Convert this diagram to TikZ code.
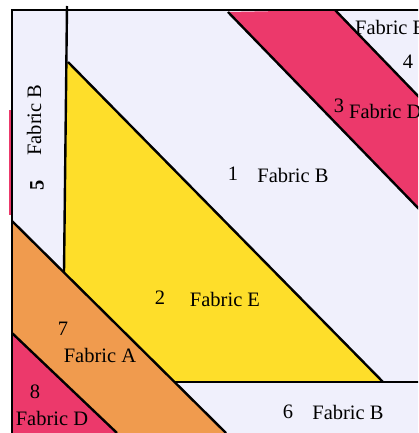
\documentclass[tikz,border=0pt]{standalone}
\usepackage{fontspec}
\setmainfont{Liberation Serif}
\definecolor{lav}{RGB}{240,240,252}
\definecolor{pinkD}{RGB}{236,57,107}
\definecolor{yelE}{RGB}{254,222,42}
\definecolor{orA}{RGB}{240,155,78}
\begin{document}
\begin{tikzpicture}[x=1pt,y=-1pt,
  edge/.style={line width=2.4pt, line join=round, black},
  lbl/.style={font=\fontsize{20.5}{24}\selectfont, inner sep=0pt}]
\clip (0,0) rectangle (418,433);
\fill[white] (0,0) rectangle (418,433);
\fill[lav] (12,10) rectangle (418,433);
\fill[pinkD] (8.5,110) rectangle (11,215);
% piece 3 strip
\fill[pinkD] (228,12) -- (335,10) -- (418,96) -- (418,208) -- cycle;
% piece 2 triangle
\fill[yelE] (67,62) -- (64,272.5) -- (174.5,382) -- (383,382) -- cycle;
% piece 7 strip
\fill[orA] (12,221) -- (226,433) -- (117,433) -- (12,333) -- cycle;
% piece 8
\fill[pinkD] (12,333) -- (117,433) -- (12,433) -- cycle;
% seams
\draw[edge] (67,6) -- (64,272.5);
\draw[edge] (68,62) -- (383,382);
\draw[edge] (12,221) -- (226,433);
\draw[edge] (12,333) -- (117,433);
\draw[edge] (174.5,382) -- (420,382);
\draw[edge] (228,12) -- (420,210);
\draw[edge] (335,10) -- (420,98);
\draw[edge] (10.8,10) -- (420,10);
\draw[edge] (12,10) -- (12,435);
% labels
\node[lbl, rotate=90] (f5) at (34,120) {Fabric B};
\node[lbl, rotate=90, font=\fontsize{20.5}{24}\selectfont\bfseries] (n5) at (37,185) {5};
\node[lbl] (n1) at (233,174) {1};
\node[lbl] (f1) at (293,175) {Fabric B};
\node[lbl] (n2) at (160,298) {2};
\node[lbl] (f2) at (225,299) {Fabric E};
\node[lbl] (n3) at (339,106) {3};
\node[lbl, anchor=west] (f3) at (349,111) {Fabric D};
\node[lbl] (n4) at (408,62) {4};
\node[lbl, anchor=west] (f4) at (355,27) {Fabric B};
\node[lbl] (n6) at (288,412) {6};
\node[lbl] (f6) at (348,412) {Fabric B};
\node[lbl] (n7) at (63,329) {7};
\node[lbl] (f7) at (100,355) {Fabric A};
\node[lbl] (n8) at (35,392) {8};
\node[lbl] (f8) at (52,418) {Fabric D};
\end{tikzpicture}
\end{document}
